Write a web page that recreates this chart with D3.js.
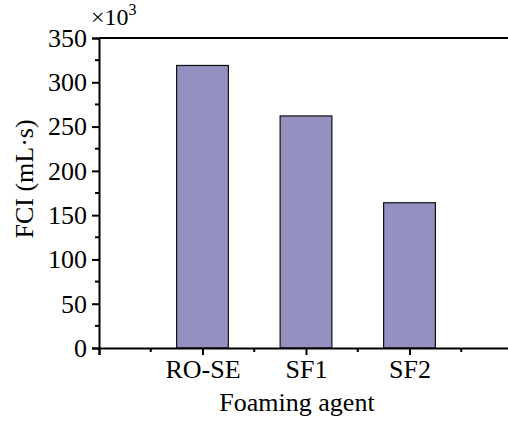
<!DOCTYPE html>
<html>
<head>
<meta charset="utf-8">
<script src="https://cdn.jsdelivr.net/npm/d3@7/dist/d3.min.js"></script>
<style>
  html, body { margin: 0; padding: 0; background: #fff; }
  svg { display: block; }
  text { font-family: "Liberation Serif", "Times New Roman", serif; fill: #000; }
</style>
</head>
<body>
<svg id="chart" width="508" height="421"></svg>
<script>
// Foam composite index per foaming agent (units of 10^3 mL·s)
const categories = ["RO-SE", "SF1", "SF2"];
const fciValues = [319, 262, 164];
const yTicks = [0, 50, 100, 150, 200, 250, 300, 350];

const svg = d3.select("#chart");
const plotLeft = 99, plotRight = 513, plotTop = 38, plotBottom = 348;

// categories sit at 1, 2, 3 on a 0–4 linear axis
const x = d3.scaleLinear().domain([0, 4]).range([plotLeft, plotRight]);
const y = d3.scaleLinear().domain([0, 350]).range([plotBottom, plotTop]);

const fontSize = 26;
const serif = '"Liberation Serif", "Times New Roman", serif';

// bars
svg.append("g").selectAll("rect")
  .data(categories)
  .join("rect")
  .attr("x", (d, i) => x(i + 1 - 0.25))
  .attr("width", x(0.5) - x(0))
  .attr("y", (d, i) => y(fciValues[i]))
  .attr("height", (d, i) => y(0) - y(fciValues[i]))
  .attr("fill", "#9490c0")
  .attr("stroke", "#111")
  .attr("stroke-width", 1.2);

// top frame line
svg.append("line")
  .attr("x1", plotLeft).attr("x2", 508)
  .attr("y1", plotTop).attr("y2", plotTop)
  .attr("stroke", "#000").attr("stroke-width", 2);

// y axis: major ticks every 50, minor in between
const yAxis = svg.append("g").attr("transform", `translate(${plotLeft},0)`);
yAxis.call(d3.axisLeft(y).tickValues(yTicks).tickSize(7).tickPadding(5).tickFormat(d3.format("d")));
yAxis.append("g").selectAll("line")
  .data(d3.range(25, 350, 50))
  .join("line")
  .attr("x1", 0).attr("x2", -4)
  .attr("y1", d => y(d)).attr("y2", d => y(d))
  .attr("stroke", "#000").attr("stroke-width", 2);

// x axis: labelled ticks at 1..3, minor at halves
const xAxis = svg.append("g").attr("transform", `translate(0,${plotBottom})`);
xAxis.call(d3.axisBottom(x).tickValues([0, 1, 2, 3, 4]).tickSize(7).tickPadding(5)
  .tickFormat(d => categories[d - 1] || ""));
xAxis.append("g").selectAll("line")
  .data([0.5, 1.5, 2.5, 3.5])
  .join("line")
  .attr("x1", d => x(d)).attr("x2", d => x(d))
  .attr("y1", 0).attr("y2", 4)
  .attr("stroke", "#000").attr("stroke-width", 2);

[yAxis, xAxis].forEach(g => {
  g.attr("font-family", serif);
  g.select(".domain").attr("stroke", "#000").attr("stroke-width", 2);
  g.selectAll(".tick line").attr("stroke", "#000").attr("stroke-width", 2);
  g.selectAll("text")
    .style("font-family", serif)
    .style("font-size", fontSize + "px")
    .attr("fill", "#000");
});

// x10^3 multiplier above the y axis
const mult = svg.append("text")
  .attr("x", 91).attr("y", 25)
  .style("font-size", "24px");
mult.append("tspan").text("×10");
mult.append("tspan").attr("dy", -10).style("font-size", "16px").text("3");

// axis titles
svg.append("text")
  .attr("transform", "translate(33,179) rotate(-90)")
  .attr("text-anchor", "middle")
  .style("font-size", fontSize + "px")
  .text("FCI (mL·s)");

svg.append("text")
  .attr("x", 297).attr("y", 411)
  .attr("text-anchor", "middle")
  .style("font-size", fontSize + "px")
  .text("Foaming agent");
</script>
</body>
</html>
